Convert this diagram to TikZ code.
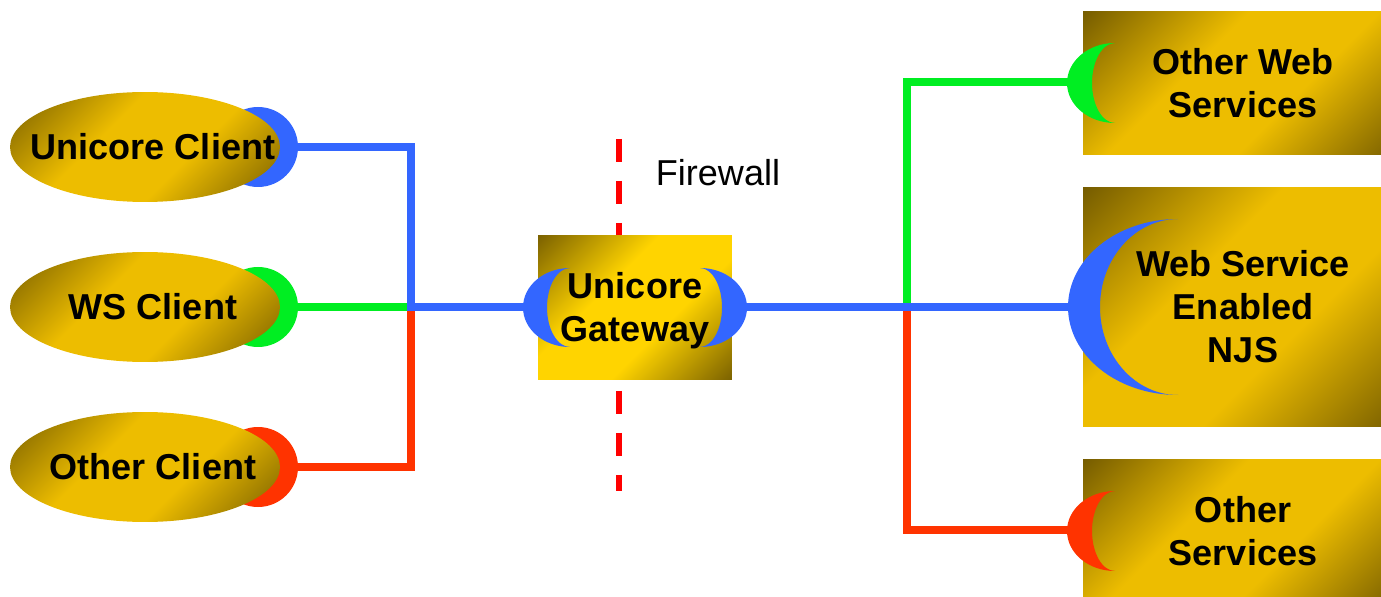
\documentclass[tikz,border=0pt]{standalone}
\usepackage{fontspec}
\setmainfont{Liberation Sans}
\usetikzlibrary{shapes.geometric, positioning}

\definecolor{golddark}{HTML}{6E5600}
\definecolor{goldmid}{HTML}{EDBD00}
\definecolor{goldlight}{HTML}{FFD400}
\definecolor{wireblue}{HTML}{3366FF}
\definecolor{wiregreen}{HTML}{00EE22}
\definecolor{wirered}{HTML}{FF3300}
\definecolor{wallred}{HTML}{FF0000}

\pgfdeclarehorizontalshading{goldfade}{100bp}{color(0bp)=(golddark); color(13bp)=(golddark); color(40bp)=(goldmid); color(60bp)=(goldmid); color(87bp)=(golddark); color(100bp)=(golddark)}
\pgfdeclarehorizontalshading{gatefade}{100bp}{color(0bp)=(golddark); color(12bp)=(golddark); color(40bp)=(goldlight); color(60bp)=(goldlight); color(88bp)=(golddark); color(100bp)=(golddark)}

\begin{document}
\begin{tikzpicture}[x=0.02cm, y=-0.02cm,
    bigfont/.style={font=\fontsize{20.5}{24.5}\selectfont\bfseries},
    wire/.style={line width=4.5pt},
    client/.style={ellipse, minimum width=5.4cm, minimum height=2.2cm, inner sep=0pt,
        shading=goldfade, shading angle=-45},
    clienttext/.style={bigfont, xshift=0.16cm},
    service/.style={rectangle, minimum width=6.4cm, inner sep=0pt, align=center,
        shading=goldfade, shading angle=-45, bigfont},
    gatebox/.style={rectangle, minimum width=3.88cm, minimum height=2.9cm, inner sep=0pt,
        shading=gatefade, shading angle=-45}]
    \useasboundingbox (0,0) rectangle (1381,597);
    \clip (0,0) rectangle (1381,597);

    % plug points and junctions of the wires
    \coordinate (ucplug) at (290,147);
    \coordinate (wsplug) at (290,307);
    \coordinate (ocplug) at (290,467);
    \coordinate (jl) at (411,307);
    \coordinate (gwin) at (535,307);
    \coordinate (gwout) at (735,307);
    \coordinate (jr) at (907,307);
    \coordinate (owsplug) at (1080,82);
    \coordinate (njsplug) at (1080,307);
    \coordinate (osplug) at (1080,530);

    % the wires, blue ones on top
    \draw[wire, wiregreen] (wsplug) -- (jl);
    \draw[wire, wirered] (ocplug) -| (jl);
    \draw[wire, wireblue] (ucplug) -| (jl) -- (gwin);
    \draw[wire, wiregreen] (jr) |- (owsplug);
    \draw[wire, wirered] (jr) |- (osplug);
    \draw[wire, wireblue] (gwout) -- (njsplug);

    % the firewall
    \coordinate (walltop) at (619,139);
    \coordinate (wallbottom) at (619,491);
    \draw[wallred, line width=3.4pt, dash pattern=on 0.46cm off 0.38cm] (walltop) -- (wallbottom);
    \node[font=\fontsize{20.5}{24}\selectfont] (fwlabel) at (718,173) {Firewall};

    % caps behind the clients
    \fill[wireblue] (258,147) ellipse [x radius=40, y radius=40];
    \fill[wiregreen] (258,307) ellipse [x radius=40, y radius=40];
    \fill[wirered] (258,467) ellipse [x radius=40, y radius=40];

    % the clients
    \node[client, label={[clienttext]center:Unicore Client}] (uc) at (145,147) {};
    \node[client, label={[clienttext]center:WS Client}] (ws) at (145,307) {};
    \node[client, label={[clienttext]center:Other Client}] (oc) at (145,467) {};

    % the gateway
    \node[gatebox] (gw) at (635,307.5) {};
    \fill[wireblue] (570,268) arc[start angle=270, end angle=90, x radius=47, y radius=39.5]
        arc[start angle=90, end angle=270, x radius=23, y radius=39.5] -- cycle;
    \fill[wireblue] (700,268) arc[start angle=270, end angle=450, x radius=47, y radius=39.5]
        arc[start angle=90, end angle=-90, x radius=22, y radius=39.5] -- cycle;
    \node[bigfont, align=center] (gwlabel) at ([yshift=-0.06cm]gw.center) {Unicore\\Gateway};

    % the services
    \node[service, minimum height=2.88cm] (ows) at (1243,83) {Other Web\\Services};
    \node[service, minimum height=4.8cm] (njs) at (1243,307) {Web Service\\Enabled\\NJS};
    \node[service, minimum height=2.88cm] (os) at (1243,531) {Other\\Services};
    \fill[wiregreen] (1115,43) arc[start angle=270, end angle=90, x radius=48, y radius=40]
        arc[start angle=90, end angle=270, x radius=23, y radius=40] -- cycle;
    \fill[wireblue] (1178,219) arc[start angle=270, end angle=90, x radius=110, y radius=88]
        arc[start angle=90, end angle=270, x radius=78, y radius=88] -- cycle;
    \fill[wirered] (1115,491) arc[start angle=270, end angle=90, x radius=48, y radius=40]
        arc[start angle=90, end angle=270, x radius=23, y radius=40] -- cycle;
\end{tikzpicture}
\end{document}
